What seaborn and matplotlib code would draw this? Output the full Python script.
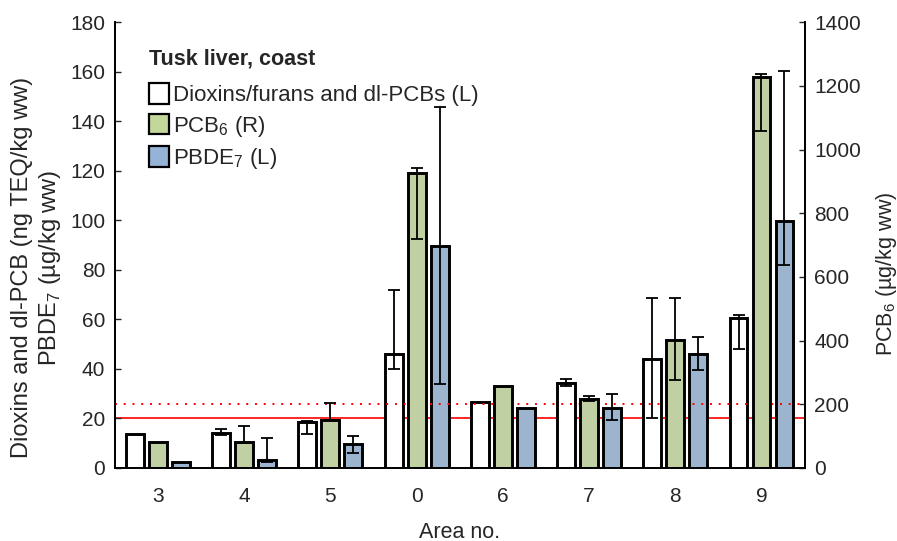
import numpy as np
import pandas as pd
import matplotlib
matplotlib.use("Agg")
import matplotlib.pyplot as plt
import seaborn as sns
from matplotlib.patches import Patch

# ---- data ----
areas = ["3", "4", "5", "0", "6", "7", "8", "9"]
series = ["Dioxins/furans and dl-PCBs (L)", "PCB$_\\mathregular{6}$ (R)", "PBDE$_\\mathregular{7}$ (L)"]

diox = [13.6, 14.0, 18.4, 46.1, 26.8, 34.4, 44.1, 60.7]
diox_lo = [np.nan, 13.5, 13.8, 39.8, np.nan, 33.1, 20.3, 48.0]
diox_hi = [np.nan, 15.7, 19.1, 71.8, np.nan, 36.0, 68.5, 61.7]

pcb6 = [83, 81, 152, 927, 258, 218, 403, 1228]
pcb6_lo = [np.nan, 78, 150, 718, np.nan, 210, 277, 1058]
pcb6_hi = [np.nan, 133, 205, 942, np.nan, 226, 533, 1237]

pbde7 = [2.3, 3.1, 9.5, 89.6, 24.3, 24.3, 46.0, 99.8]
pbde7_lo = [np.nan, 2.5, 5.9, 34.0, np.nan, 19.2, 39.5, 81.8]
pbde7_hi = [np.nan, 12.0, 13.0, 145.7, np.nan, 30.0, 52.9, 160.3]

limit_left = 20     # dioxins limit (L)
limit_right = 200   # PCB6 limit (R)

colors = ["#FFFFFF", "#C4D79B", "#95B3D7"]

# ---- style ----
sns.set_style("white")
plt.rcParams["font.family"] = ["Liberation Sans", "DejaVu Sans"]
plt.rcParams["mathtext.fontset"] = "custom"
plt.rcParams["mathtext.rm"] = "Liberation Sans"

fig = plt.figure(figsize=(8.97, 5.41), dpi=100)
ax = fig.add_axes([0.128, 0.135, 0.769, 0.824])
ax2 = ax.twinx()

left_df = pd.DataFrame({
    "Area": areas * 2,
    "Series": [series[0]] * 8 + [series[2]] * 8,
    "Value": diox + pbde7,
})
right_df = pd.DataFrame({
    "Area": areas,
    "Series": [series[1]] * 8,
    "Value": pcb6,
})
pal = dict(zip(series, colors))

kw = dict(x="Area", y="Value", hue="Series", hue_order=series, order=areas,
          palette=pal, errorbar=None, gap=0.22, width=0.8, dodge=True,
          edgecolor="black", linewidth=2.1, legend=False)
sns.barplot(data=left_df, ax=ax, **kw)
sns.barplot(data=right_df, ax=ax2, **kw)

# error bars
n = len(series)
bw = 0.8 / n
x = np.arange(len(areas))
ebkw = dict(fmt="none", ecolor="black", elinewidth=1.3, capsize=4.5, capthick=1.3, zorder=5)
for vals, lo, hi, k, a in [(diox, diox_lo, diox_hi, 0, ax),
                            (pcb6, pcb6_lo, pcb6_hi, 1, ax2),
                            (pbde7, pbde7_lo, pbde7_hi, 2, ax)]:
    v = np.array(vals, float); l = np.array(lo, float); h = np.array(hi, float)
    m = ~np.isnan(l)
    xs = x + (k - 1) * bw
    a.errorbar(xs[m], v[m], yerr=[v[m] - l[m], h[m] - v[m]], **ebkw)

# limit lines
ax.axhline(limit_left, color="#FF0000", lw=1.2, zorder=0.5)
ax2.axhline(limit_right, color="#FF0000", lw=1.4, ls=(0, (1, 3.5)), zorder=0.5)

ax.set_xlim(-0.5, len(areas) - 0.5)
ax.set_ylim(0, 180)
ax2.set_ylim(0, 1400)
ax.set_yticks(np.arange(0, 181, 20))
ax2.set_yticks(np.arange(0, 1401, 200))

fs = 15
lfs = 15.5
ax.tick_params(axis="y", direction="in", length=4, width=1, labelsize=fs, left=True, pad=7)
ax2.tick_params(axis="y", direction="in", length=4, width=1, labelsize=fs, right=True, pad=7)
ax.tick_params(axis="x", direction="in", length=3, width=1, labelsize=fs, bottom=True, pad=14)

ax.set_xlabel("Area no.", fontsize=lfs, labelpad=11)
ax.set_ylabel("Dioxins and dl-PCB (ng TEQ/kg ww)\nPBDE$_\\mathregular{7}$ (µg/kg ww)", fontsize=17, labelpad=8)
ax.yaxis.set_label_coords(-0.075, 0.45)
ax2.set_ylabel("PCB$_\\mathregular{6}$ (µg/kg ww)", fontsize=lfs, labelpad=8)
ax2.yaxis.set_label_coords(1.10, 0.435)

for a in (ax, ax2):
    a.spines["top"].set_visible(False)
    for s in ("left", "right", "bottom"):
        a.spines[s].set_color("black")
        a.spines[s].set_linewidth(1.3)
ax.spines["bottom"].set_color("#222222")

handles = [Patch(facecolor=c, edgecolor="black", linewidth=1.6) for c in colors]
leg = ax2.legend(handles, series, title="Tusk liver, coast", loc="upper left",
                 bbox_to_anchor=(0.037, 0.962), frameon=False, fontsize=16,
                 handlelength=0.9, handleheight=1.05, handletextpad=0.15,
                 labelspacing=0.33, alignment="left", borderaxespad=0.0)
leg.get_title().set_fontweight("bold")
leg.get_title().set_fontsize(15.5)
leg._legend_box.sep = leg._legend_box.sep + 5

fig.savefig("out.png", dpi=100)
